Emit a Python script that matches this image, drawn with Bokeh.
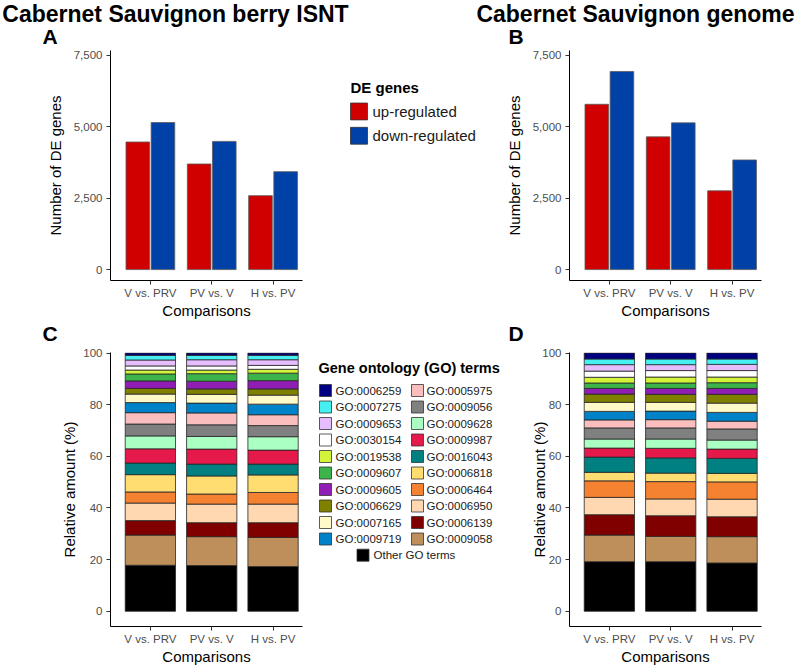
from bokeh.plotting import figure
from bokeh.layouts import column, row
from bokeh.models import ColumnDataSource, Range1d, FixedTicker, NumeralTickFormatter
from bokeh.transform import dodge
from bokeh.core.properties import value
from bokeh.embed import file_html
from bokeh.resources import INLINE

# ---------------- data ----------------
cmp_left = ["V", "PV", "H"]
cmp_right = ["PRV", "V", "PV"]
cmp_x = [1, 2, 3]

isnt_up = [4470, 3700, 2590]
isnt_down = [5150, 4490, 3430]
genome_up = [5790, 4650, 2760]
genome_down = [6940, 5140, 3840]
de_labels = ["up-regulated", "down-regulated"]
de_colors = ["#D00000", "#0041A8"]

# stack order: bottom -> top
go_terms = ["Other GO terms", "GO:0009058", "GO:0006139", "GO:0006950", "GO:0006464",
            "GO:0006818", "GO:0016043", "GO:0009987", "GO:0009628", "GO:0009056",
            "GO:0005975", "GO:0009719", "GO:0007165", "GO:0006629", "GO:0009605",
            "GO:0009607", "GO:0019538", "GO:0030154", "GO:0009653", "GO:0007275",
            "GO:0006259"]
go_colors = ["#000000", "#BF8F5B", "#800000", "#FFD8B1", "#F58231",
             "#FFDD70", "#008080", "#E6194B", "#AAFFC3", "#808080",
             "#FABEBE", "#0082C8", "#FFFAC8", "#808000", "#911EB4",
             "#3CB44B", "#D2F53C", "#FFFFFF", "#E6BEFF", "#46F0F0",
             "#000080"]

isnt_v_prv = [17.8, 11.7, 5.6, 6.8, 4.3, 6.7, 4.5, 5.5, 5.0, 4.6, 4.4, 3.9, 3.3, 2.2, 2.9, 2.7, 1.5, 1.6, 2.3, 1.8, 0.9]
isnt_pv_v = [17.7, 11.2, 5.4, 7.2, 3.9, 7.0, 4.6, 5.8, 4.9, 4.5, 4.6, 3.8, 3.4, 2.1, 3.0, 2.9, 1.4, 1.6, 2.4, 1.7, 0.9]
isnt_h_pv = [17.3, 11.3, 5.7, 7.2, 4.5, 6.8, 4.2, 5.4, 5.2, 4.3, 4.2, 4.1, 3.5, 2.4, 3.2, 2.9, 1.5, 1.5, 2.2, 1.7, 0.9]
genome_v_prv = [19.2, 10.3, 7.9, 6.7, 6.4, 3.3, 5.9, 3.5, 3.5, 4.3, 3.1, 3.3, 3.5, 3.2, 2.2, 2.1, 2.2, 2.4, 2.5, 2.2, 2.3]
genome_pv_v = [19.2, 9.8, 8.0, 6.5, 6.7, 3.3, 5.9, 3.7, 3.6, 4.3, 3.2, 3.3, 3.4, 3.1, 2.3, 2.1, 2.3, 2.5, 2.3, 2.2, 2.3]
genome_h_pv = [18.7, 10.2, 7.7, 6.8, 6.7, 3.3, 5.8, 3.6, 3.5, 4.3, 3.0, 3.4, 3.6, 3.4, 2.3, 2.2, 2.2, 2.5, 2.4, 2.1, 2.3]

de_yticks = [0, 2500, 5000, 7500]
pct_yticks = [0, 20, 40, 60, 80, 100]
headings = ["Cabernet Sauvignon berry ISNT", "Cabernet Sauvignon genome"]
letters_top = ["A", "B"]
letters_bottom = ["C", "D"]

# ---------------- style / layout ----------------
FONT = "Liberation Sans"
TICK_COL = "#4D4D4D"
X_RANGE = (0.35, 3.48)
DE_YR = (-382, 7674)
PCT_YR = (-5.9, 100.2)
STRIP1_H = 48
ROW1_H, ROW1_TOP, ROW1_BOT = 273, 2, 39
STRIP2_H = 24
ROW2_H, ROW2_TOP, ROW2_BOT = 326, 7, 45


def panel(width, height, left, right, top, bottom, yr, ylabel, yticks, ylab_standoff):
    p = figure(width=width, height=height, x_range=Range1d(*X_RANGE), y_range=Range1d(*yr),
               output_backend="svg", toolbar_location=None,
               min_border_left=left, min_border_right=right,
               min_border_top=top, min_border_bottom=bottom)
    p.grid.visible = False
    p.outline_line_color = None
    for ax in (p.xaxis[0], p.yaxis[0]):
        ax.axis_line_color = "black"
        ax.axis_line_width = 1
        ax.major_tick_line_color = "#333333"
        ax.major_tick_in = 0
        ax.major_tick_out = 4
        ax.minor_tick_line_color = None
        ax.major_label_text_font = FONT
        ax.major_label_text_font_size = "11.5px"
        ax.major_label_text_color = TICK_COL
        ax.axis_label_text_font = FONT
        ax.axis_label_text_font_size = "15px"
        ax.axis_label_text_font_style = "normal"
        ax.axis_label_text_color = "black"
    p.yaxis.ticker = FixedTicker(ticks=yticks)
    p.yaxis.major_label_standoff = 4
    p.yaxis.axis_label = ylabel
    p.yaxis.axis_label_standoff = ylab_standoff
    p.xaxis.ticker = FixedTicker(ticks=cmp_x)
    p.xaxis.major_label_overrides = {x: f"{l} vs. {r}" for x, l, r in zip(cmp_x, cmp_left, cmp_right)}
    p.xaxis.major_label_standoff = 2
    p.xaxis.axis_label = "Comparisons"
    p.xaxis.axis_label_standoff = 0
    return p


def de_panel(up, down, width, left, right):
    p = panel(width, ROW1_H, left, right, ROW1_TOP, ROW1_BOT, DE_YR, "Number of DE genes",
              de_yticks, 7)
    p.yaxis.formatter = NumeralTickFormatter(format="0,0")
    src = ColumnDataSource(dict(x=cmp_x, up=up, down=down))
    p.vbar(x=dodge("x", -0.205), top="up", bottom=0, width=0.385, source=src,
           fill_color=de_colors[0], line_color="#5A5A5A", line_width=0.8)
    p.vbar(x=dodge("x", 0.205), top="down", bottom=0, width=0.385, source=src,
           fill_color=de_colors[1], line_color="#5A5A5A", line_width=0.8)
    return p


def go_panel(a, b, c, width, left, right, ylab_standoff):
    p = panel(width, ROW2_H, left, right, ROW2_TOP, ROW2_BOT, PCT_YR, "Relative amount (%)",
              pct_yticks, ylab_standoff)
    data = {"x": cmp_x}
    for j, t in enumerate(go_terms):
        data[t] = [a[j], b[j], c[j]]
    src = ColumnDataSource(data)
    p.vbar_stack(go_terms, x="x", width=0.82, source=src, fill_color=go_colors,
                 line_color="#262626", line_width=0.8)
    return p


def blank(width, height, top=0, bottom=0):
    fh = height - top - bottom
    p = figure(width=width, height=height, x_range=Range1d(0, width), y_range=Range1d(fh, 0),
               output_backend="svg", toolbar_location=None, min_border=0,
               min_border_top=top, min_border_bottom=bottom,
               x_axis_location=None, y_axis_location=None)
    p.grid.visible = False
    p.outline_line_color = None
    return p


# strip with headings and the letters A, B
strip1 = blank(800, STRIP1_H)
strip1.text(x=[175, 635], y=[13, 13], text=headings,
            text_align="center", text_baseline="middle", text_font=value(FONT),
            text_font_style="bold", text_font_size="23px", text_color="black")
strip1.text(x=[42, 508], y=[36, 36], text=letters_top, text_align="left",
            text_baseline="middle", text_font=value(FONT), text_font_style="bold",
            text_font_size="21px", text_color="black")

# strip with the letters C, D
strip2 = blank(800, STRIP2_H)
strip2.text(x=[42, 508], y=[12, 12], text=letters_bottom, text_align="left",
            text_baseline="middle", text_font=value(FONT), text_font_style="bold",
            text_font_size="21px", text_color="black")

fA = de_panel(isnt_up, isnt_down, 310, 110, 8)
fB = de_panel(genome_up, genome_down, 300, 69, 39)
fC = go_panel(isnt_v_prv, isnt_pv_v, isnt_h_pv, 310, 110, 8, 2)
fD = go_panel(genome_v_prv, genome_pv_v, genome_h_pv, 293, 62, 39, -9)

# DE legend (frame coords: page y - 50, page x - 310)
leg1 = blank(190, ROW1_H, ROW1_TOP, ROW1_BOT)
leg1.text(x=[40], y=[37.5], text=["DE genes"], text_baseline="middle", text_font=value(FONT),
          text_font_style="bold", text_font_size="15px", text_color="black")
de_y = [61.5 + 24.5 * i for i in range(len(de_labels))]
leg1.rect(x=[48.5] * len(de_labels), y=de_y, width=17, height=17, fill_color=de_colors,
          line_color="#333333", line_width=0.8)
leg1.text(x=[62] * len(de_labels), y=de_y, text=de_labels, text_baseline="middle",
          text_font=value(FONT), text_font_size="15px", text_color="#1A1A1A")

# GO legend (frame coords: page y - 352, page x - 310)
leg2 = blank(197, ROW2_H, ROW2_TOP, ROW2_BOT)
leg2.text(x=[8], y=[15], text=["Gene ontology (GO) terms"], text_baseline="middle",
          text_font=value(FONT), text_font_style="bold", text_font_size="14.5px",
          text_color="black")
top_first = list(reversed(list(zip(go_terms[1:], go_colors[1:]))))
n = len(top_first) // 2
lx, ly, lt, lc, tx = [], [], [], [], []
for i, (t, col) in enumerate(top_first):
    colno, r = divmod(i, n)
    lx.append(15 + 92 * colno)
    tx.append(25 + 91 * colno)
    ly.append(38 + 16.5 * r)
    lt.append(t)
    lc.append(col)
lx.append(52.5)
tx.append(63)
ly.append(38 + 16.5 * n - 0.3)
lt.append(go_terms[0])
lc.append(go_colors[0])
leg2.rect(x=lx, y=ly, width=12, height=12, fill_color=lc, line_color="#333333", line_width=0.8)
leg2.text(x=tx, y=ly, text=lt, text_baseline="middle", text_font=value(FONT),
          text_font_size="11.5px", text_color="#1A1A1A")

layout = column(strip1, row(fA, leg1, fB), strip2, row(fC, leg2, fD))
open("out.html", "w").write(file_html(layout, INLINE))
